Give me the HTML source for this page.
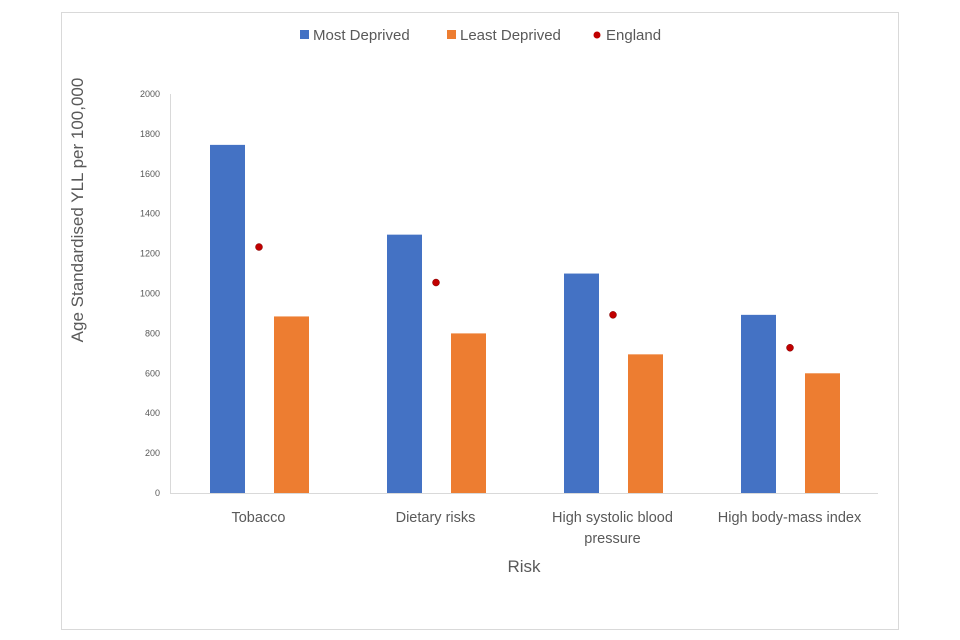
<!DOCTYPE html>
<html><head><meta charset="utf-8"><style>
html,body{margin:0;padding:0;background:#fff;}
svg{display:block;font-family:"Liberation Sans",sans-serif;}
</style></head><body>
<svg id="chart" width="960" height="640" viewBox="0 0 960 640">
<rect x="61.5" y="12.5" width="837" height="617" fill="#fff" stroke="#d9d9d9"/>
<g>
<g><rect x="300" y="30" width="9" height="9" fill="#4472c4"/><text x="313" y="40" font-size="15" fill="#595959">Most Deprived</text></g>
<g><rect x="447" y="30" width="9" height="9" fill="#ed7d31"/><text x="460" y="40" font-size="15" fill="#595959">Least Deprived</text></g>
<g><circle cx="597" cy="35" r="3.5" fill="#c00000"/><text x="606" y="40" font-size="15" fill="#595959">England</text></g>
</g>
<text transform="translate(83,210) rotate(-90)" text-anchor="middle" font-size="17" fill="#595959">Age Standardised YLL per 100,000</text>
<text x="524" y="572" text-anchor="middle" font-size="17" fill="#595959">Risk</text>
<g id="yaxis"></g>
<g id="bars"></g>
<g id="xaxis"></g>
</svg>
<script>
const categories = ["Tobacco","Dietary risks","High systolic blood pressure","High body-mass index"];
const categoryLines = [["Tobacco"],["Dietary risks"],["High systolic blood","pressure"],["High body-mass index"]];
const mostDeprived = [1745, 1295, 1100, 893];
const leastDeprived = [885, 800, 695, 600];
const england = [1233, 1055, 893, 728];
const yTicks = [0,200,400,600,800,1000,1200,1400,1600,1800,2000];

const NS="http://www.w3.org/2000/svg";
const x0=170, x1=878, y0=493, yTop=94, yMax=2000;
const band=(x1-x0)/categories.length;
const y=v=>y0-(v/yMax)*(y0-yTop);
const cx=i=>x0+band*(i+0.5);
function mk(tag,attrs,parent){const e=document.createElementNS(NS,tag);for(const k in attrs)e.setAttribute(k,attrs[k]);parent.appendChild(e);return e;}
const ya=document.getElementById('yaxis'), bars=document.getElementById('bars'), xa=document.getElementById('xaxis');
let l=mk('line',{x1:x0+0.5,x2:x0+0.5,y1:yTop,y2:y0,stroke:'#d9d9d9'},ya);


yTicks.forEach(t=>{
  const tx=mk('text',{x:160,y:y(t)+3,'text-anchor':'end','font-size':9,fill:'#595959'},ya);
  tx.textContent=t;
  
  
});
let bl=mk('line',{x1:x0,x2:x1,y1:y0+0.5,y2:y0+0.5,stroke:'#d9d9d9'},xa);


categories.forEach((c,i)=>{
  const c0=cx(i);
  const b1=mk('rect',{x:c0-48.5,y:y(mostDeprived[i]),width:35,height:y0-y(mostDeprived[i]),fill:'#4472c4'},bars);
  
  
  const b2=mk('rect',{x:c0+15.5,y:y(leastDeprived[i]),width:35,height:y0-y(leastDeprived[i]),fill:'#ed7d31'},bars);
  
  
  const d=mk('circle',{cx:c0+0.5,cy:y(england[i]),r:3.5,fill:'#c00000',stroke:'#7f0000','stroke-width':0.5},bars);
  
  
  categoryLines[i].forEach((ln,j)=>{
    const t=mk('text',{x:c0,y:522+j*21,'text-anchor':'middle','font-size':14.5,fill:'#595959'},xa);
    t.textContent=ln;
    
    
  });
});
</script>
</body></html>
